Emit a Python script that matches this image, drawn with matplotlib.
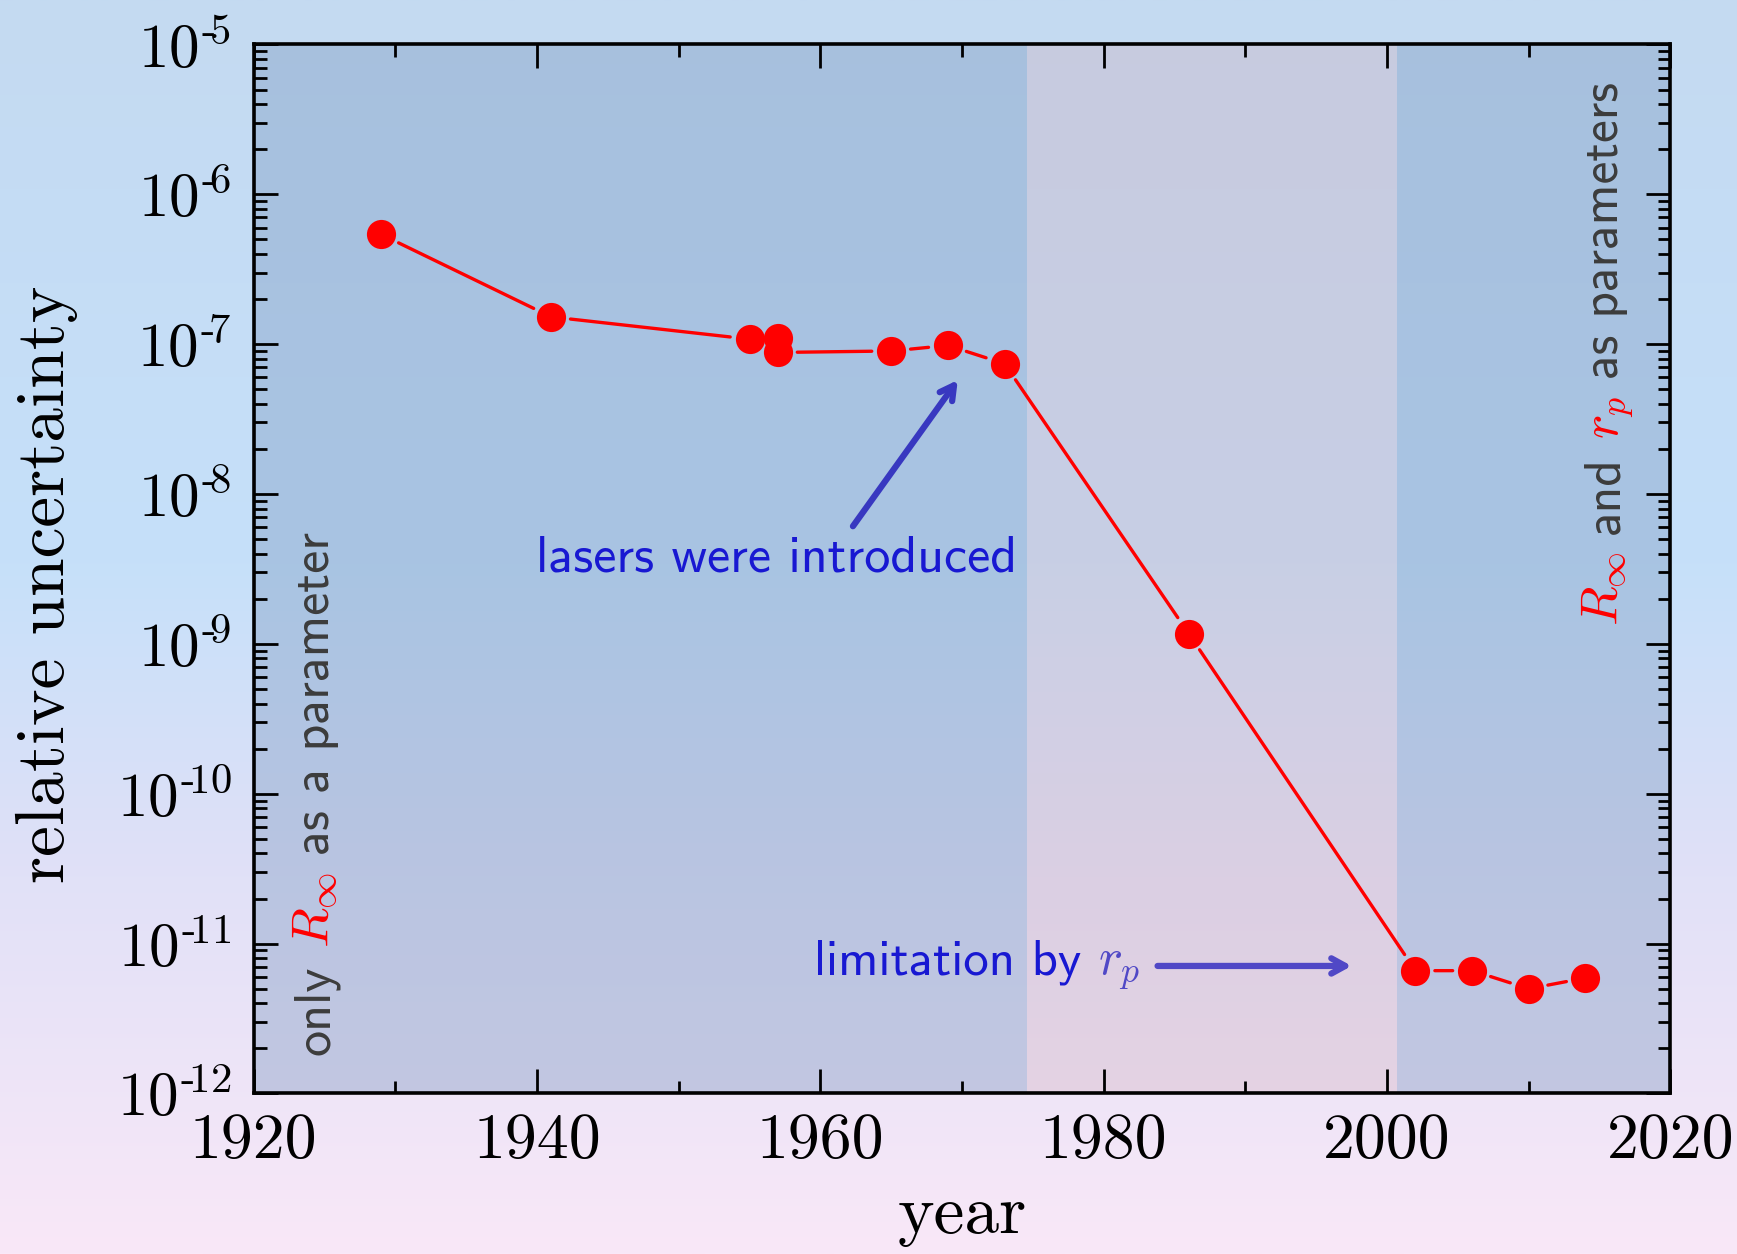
import matplotlib
matplotlib.use("Agg")
import matplotlib.pyplot as plt
import matplotlib.transforms as mtransforms
from matplotlib.ticker import LogLocator, MultipleLocator, NullFormatter
import numpy as np

plt.rcParams["mathtext.fontset"] = "cm"
plt.rcParams["font.family"] = "cmr10"
plt.rcParams["axes.unicode_minus"] = False
plt.rcParams["axes.formatter.use_mathtext"] = True

# ── data: relative uncertainty of hydrogen spectroscopy by year ─────────────
years = [1929, 1941, 1955, 1957, 1957, 1965, 1969, 1973, 1986,
         2002, 2006, 2010, 2014]
rel_unc = [5.4e-7, 1.52e-7, 1.08e-7, 1.1e-7, 8.8e-8, 9.0e-8, 9.8e-8, 7.4e-8,
           1.17e-9, 6.6e-12, 6.6e-12, 5.0e-12, 5.9e-12]

# era boundaries: R_inf only | lasers | R_inf and r_p
era_edges = [1920, 1974.6, 2000.7, 2020]
era_kind = ["blue", "pink", "blue"]

x_ticks = [1920, 1940, 1960, 1980, 2000, 2020]
y_exps = [-12, -11, -10, -9, -8, -7, -6, -5]

# ── colours ──────────────────────────────────────────────────────────────────
RED = "#ff0000"
GRAY = "#3c3c3c"
BLUE = "#1818d2"
ARROW_LASER = "#3838c0"
ARROW_RP = "#5048c6"
OVERLAY = {"blue": ((119/255, 149/255, 189/255), 0.37),
           "pink": ((206/255, 170/255, 184/255), 0.31)}

# background gradient stops (0 = top of figure, 1 = bottom)
grad_pos = [0.0, 0.45, 0.7, 1.0]
grad_rgb = np.array([[196, 218, 241],
                     [198, 224, 250],
                     [225, 225, 247],
                     [249, 232, 248]]) / 255.0

fig = plt.figure(figsize=(17.37, 12.54), dpi=100)

bg = fig.add_axes([0, 0, 1, 1], zorder=0)
t = np.linspace(0, 1, 512)
grad = np.stack([np.interp(t, grad_pos, grad_rgb[:, k]) for k in range(3)], axis=-1)
bg.imshow(grad[:, None, :], extent=[0, 1, 0, 1], aspect="auto")
bg.axis("off")

ax = fig.add_axes([0.146, 0.128, 0.8157, 0.8366], zorder=1)
ax.patch.set_alpha(0)
ax.set_xlim(1920, 2020)
ax.set_yscale("log")
ax.set_ylim(1e-12, 1e-5)

for (x0, x1), kind in zip(zip(era_edges[:-1], era_edges[1:]), era_kind):
    col, a = OVERLAY[kind]
    ax.axvspan(x0, x1, color=col, alpha=a, lw=0, zorder=0)

# ── points and the gapped connecting segments ───────────────────────────────
ax.plot(years, rel_unc, "o", ms=21, color=RED, mec="none", zorder=3)

shrink = 14  # points, marker radius plus a small gap
pts = ax.transData.transform(np.column_stack([years, rel_unc]))
for i in range(len(years) - 1):
    dist = np.hypot(*(pts[i + 1] - pts[i])) * 72 / fig.dpi
    if dist <= 2 * shrink + 2:
        continue
    ax.annotate("", xy=(years[i + 1], rel_unc[i + 1]), xytext=(years[i], rel_unc[i]),
                arrowprops=dict(arrowstyle="-", color=RED, lw=2.4,
                                shrinkA=shrink, shrinkB=shrink), zorder=2)

# ── axes styling ─────────────────────────────────────────────────────────────
ax.set_xticks(x_ticks)
ax.set_xticklabels([str(v) for v in x_ticks])
ax.xaxis.set_minor_locator(MultipleLocator(10))
ax.set_yticks([10.0 ** e for e in y_exps])
ax.set_yticklabels([r"$10^{\text{-}\!%d}$" % (-e) for e in y_exps])
ax.yaxis.set_minor_locator(LogLocator(base=10, subs=np.arange(2, 10), numticks=100))
ax.yaxis.set_minor_formatter(NullFormatter())

ax.tick_params(which="both", direction="in", top=True, right=True, colors="black")
ax.tick_params(which="major", length=17, width=2.0, labelsize=46)
ax.tick_params(axis="y", which="major", labelsize=44, pad=16)
ax.tick_params(which="minor", length=9, width=2.0)
ax.tick_params(axis="x", which="major", pad=14)
for s in ax.spines.values():
    s.set_linewidth(2.6)

ax.set_xlabel("year", fontsize=50, va="baseline")
ax.xaxis.set_label_coords(0.5, -0.133)
ax.set_ylabel("relative uncertainty", fontsize=50, va="baseline")
ax.yaxis.set_label_coords(-0.1337, 0.485)

# ── annotations ──────────────────────────────────────────────────────────────
SANS = "cmss10"
FS = 37.5
renderer = fig.canvas.get_renderer()


def text_width(s, fs):
    tmp = ax.text(0, 0, s, fontsize=fs, family=SANS, transform=ax.transAxes)
    w = tmp.get_window_extent(renderer).width
    tmp.remove()
    return w


def multicolor(x, y, parts, transform, rotation=0, fs=FS):
    space = text_width("a a", fs) - text_width("aa", fs)
    off = 0.0
    for s, c in parts:
        dx, dy = (0, off) if rotation == 90 else (off, 0)
        tr = mtransforms.offset_copy(transform, fig=fig, x=dx, y=dy, units="dots")
        txt = ax.text(x, y, s, color=c, fontsize=fs, family=SANS, rotation=rotation,
                      rotation_mode="anchor", ha="left", va="baseline",
                      transform=tr, zorder=4)
        bb = txt.get_window_extent(renderer)
        off += (bb.height if rotation == 90 else bb.width) + space


def chevron_arrow(start, end, color):
    ax.annotate("", xy=end, xytext=start,
                arrowprops=dict(arrowstyle="->,head_length=1.0,head_width=0.55",
                                color=color, lw=4.5, shrinkA=0, shrinkB=0,
                                capstyle="round", joinstyle="round"), zorder=4)


ax.text(1939.94, 10 ** -8.518, "lasers were introduced", color=BLUE,
        fontsize=FS, family=SANS, ha="left", va="baseline", zorder=4)
chevron_arrow((1962.3, 10 ** -8.215), (1969.7, 10 ** -7.24), ARROW_LASER)

multicolor(1959.56, 10 ** -11.208,
           [("limitation by", BLUE), (r"$r_p$", ARROW_RP)], ax.transData, fs=36.5)
chevron_arrow((1983.8, 10 ** -11.149), (1997.5, 10 ** -11.149), ARROW_RP)

multicolor(0.053, 0.037,
           [("only", GRAY), (r"$R_\infty$", RED), ("as a parameter", GRAY)],
           ax.transAxes, rotation=90)
multicolor(0.963, 0.4456,
           [(r"$R_\infty$", RED), ("and", GRAY), (r"$r_p$", RED),
            ("as parameters", GRAY)],
           ax.transAxes, rotation=90, fs=37)

fig.savefig("out.png", dpi=100)
